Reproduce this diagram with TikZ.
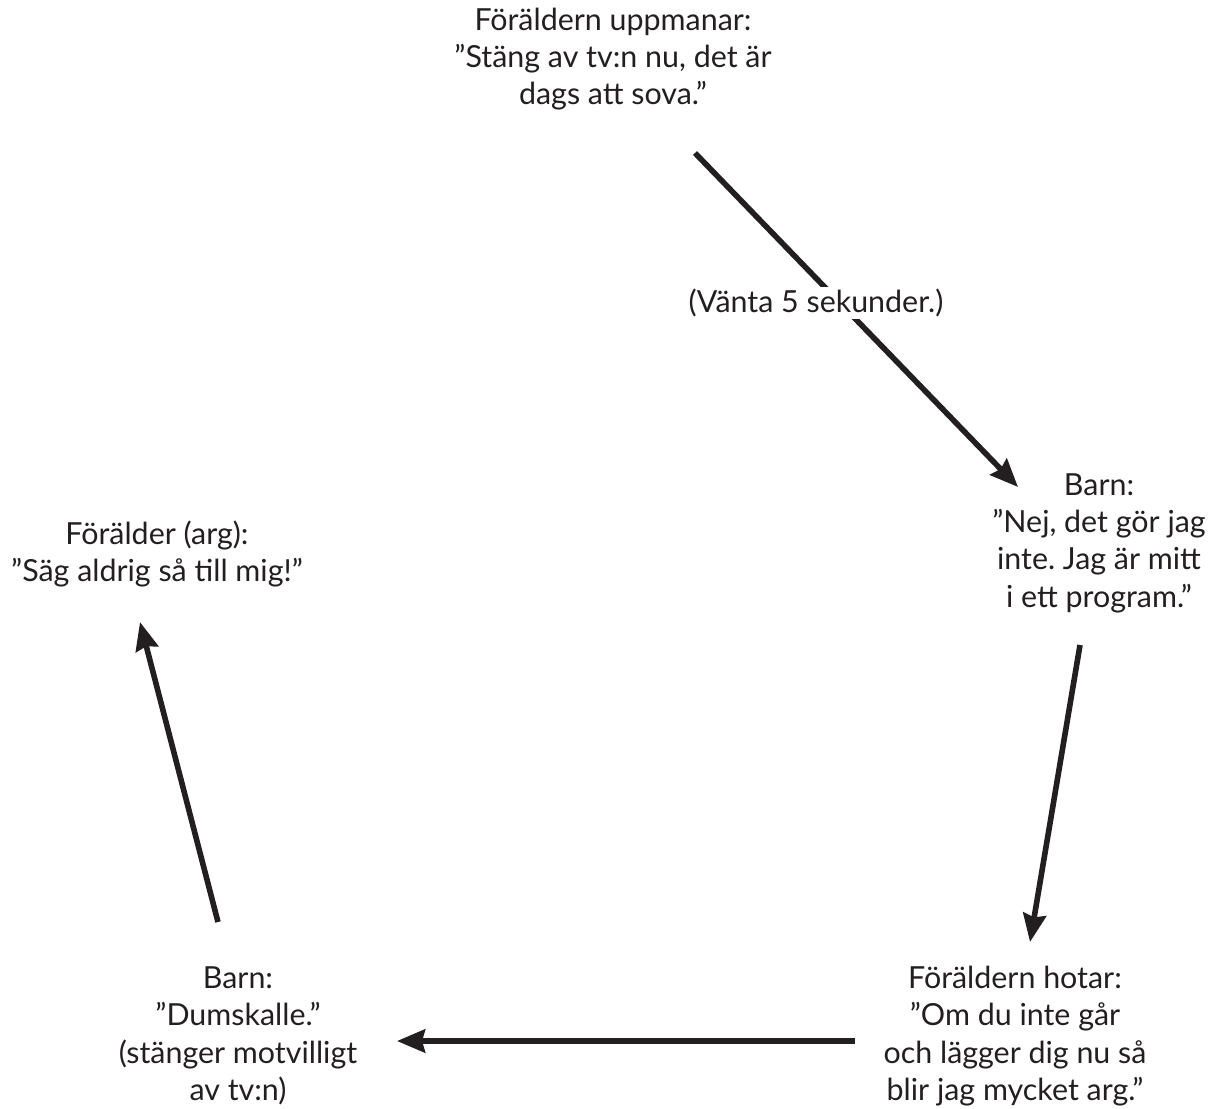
\documentclass[tikz,border=0pt]{standalone}
\usepackage{fontspec}
\setmainfont{Lato}
\usetikzlibrary{arrows.meta}
\definecolor{ink}{HTML}{231F20}
\frenchspacing
\begin{document}
\begin{tikzpicture}[x=0.5pt,y=-0.5pt,
  txt/.style={align=center,text=ink,font=\fontsize{15.2pt}{18.7pt}\selectfont,inner sep=0pt},
  arr/.style={draw=ink,line width=2.8pt,-{Stealth[length=14pt,width=11.5pt,inset=1.5pt]}},
  lbl/.style={txt,fill=white,inner sep=1pt}]
\useasboundingbox (0,0) rectangle (1213,1108);
\node[txt] (top) at (613,59) {Föräldern uppmanar:\\”Stäng av tv:n nu, det är\\dags att sova.”};
\node[txt] (barnR) at (1099,543) {Barn:\\”Nej, det gör jag\\inte. Jag är mitt\\i ett program.”};
\node[txt] (hotar) at (1015,1036) {Föräldern hotar:\\”Om du inte går\\och lägger dig nu så\\blir jag mycket arg.”};
\node[txt] (barnL) at (238,1036) {Barn:\\”Dumskalle.”\\(stänger motvilligt\\av tv:n)};
\node[txt] (arg) at (157,554) {Förälder (arg):\\”Säg aldrig så till mig!”};
\coordinate (a1s) at (695,153); \coordinate (a1e) at (1018,487);
\coordinate (a2s) at (1080,645); \coordinate (a2e) at (1030,942);
\coordinate (a3s) at (855,1041); \coordinate (a3e) at (397,1041);
\coordinate (a4s) at (218,922); \coordinate (a4e) at (140,622);
\draw[arr] (a1s) -- (a1e);
\node[lbl] (wait) at (816,303) {(Vänta 5 sekunder.)};
\draw[arr] (a2s) -- (a2e);
\draw[arr] (a3s) -- (a3e);
\draw[arr] (a4s) -- (a4e);
\end{tikzpicture}
\end{document}
